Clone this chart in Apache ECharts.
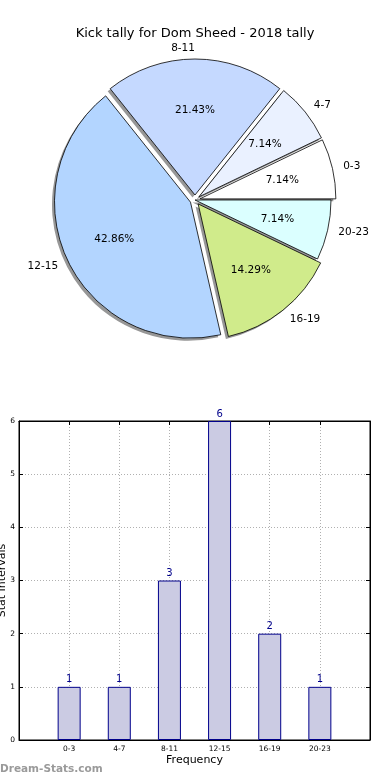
<!DOCTYPE html>
<html>
<head>
<meta charset="utf-8">
<script src="https://cdn.jsdelivr.net/npm/echarts@6/dist/echarts.min.js"></script>
<style>
html,body{margin:0;padding:0;background:#fff;}
#c{width:390px;height:780px;}
</style>
</head>
<body>
<div id="c"></div>
<script>
var titleText = 'Kick tally for Dom Sheed - 2018 tally';
var categories = ['0-3', '4-7', '8-11', '12-15', '16-19', '20-23'];
var counts = [1, 1, 3, 6, 2, 1];
var sliceColors = ['#ffffff', '#eaf1ff', '#c5d9ff', '#b3d5ff', '#d0eb8b', '#dbffff'];
var exploded = [true, true, true, true, true, false];
var yTicks = [0, 1, 2, 3, 4, 5, 6];
var xAxisName = 'Frequency';
var yAxisName = 'Stat Intervals';
var watermark = 'Dream-Stats.com';

var R = 136;
var CX = 195, CY = 200;
var START = 0.01;
var FONT = 'DejaVu Sans';

var pieData = categories.map(function (c, i) {
  return { name: c, value: counts[i], selected: exploded[i], itemStyle: { color: sliceColors[i] } };
});
var pieShadowData = categories.map(function (c, i) {
  return { name: c, value: counts[i], selected: exploded[i] };
});
var pieLabelData = categories.map(function (c, i) {
  return { name: c, value: counts[i], selected: exploded[i] };
});
var barData = counts.map(function (v, i) { return [i, v]; });

var gridLine = { show: true, lineStyle: { color: '#b0b0b0', type: [1, 2], width: 1 } };
var tickIn = { show: true, inside: true, length: 4, lineStyle: { color: '#000' } };

var chart = echarts.init(document.getElementById('c'), null, { renderer: 'canvas' });
chart.setOption({
  animation: false,
  backgroundColor: '#ffffff',
  title: {
    text: titleText, left: 'center', top: 22,
    textStyle: { fontFamily: FONT, fontSize: 13, fontWeight: 'normal', color: '#000' }
  },
  graphic: [{
    type: 'text', left: 0, top: 764,
    style: { text: watermark, fill: '#9a9a9a', font: 'bold 10.5px "DejaVu Sans"' }
  }],
  grid: {
    left: 19, right: 20, top: 421, bottom: 40,
    containLabel: false, outerBoundsMode: 'none',
    show: true, borderColor: '#000', borderWidth: 1
  },
  xAxis: [{
    type: 'value', min: -1, max: 6, interval: 1, position: 'bottom',
    name: xAxisName, nameLocation: 'middle', nameGap: 15,
    nameTextStyle: { fontFamily: FONT, fontSize: 11, color: '#000' },
    axisLine: { show: true, onZero: false, lineStyle: { color: '#000' } },
    axisTick: tickIn,
    axisLabel: {
      fontFamily: FONT, fontSize: 7.5, color: '#000', margin: 5,
      formatter: function (v) { return categories[v] !== undefined ? categories[v] : ''; }
    },
    splitLine: gridLine
  }, {
    type: 'value', min: -1, max: 6, interval: 1, position: 'top',
    axisLine: { show: true, onZero: false, lineStyle: { color: '#000' } },
    axisTick: tickIn, axisLabel: { show: false }, splitLine: { show: false }
  }],
  yAxis: [{
    type: 'value', min: yTicks[0], max: yTicks[yTicks.length - 1], interval: 1, position: 'left',
    name: yAxisName, nameLocation: 'middle', nameGap: 11, nameRotate: 90, nameMoveOverlap: false,
    nameTextStyle: { fontFamily: FONT, fontSize: 11, color: '#000' },
    axisLine: { show: true, onZero: false, lineStyle: { color: '#000' } },
    axisTick: tickIn,
    axisLabel: { fontFamily: FONT, fontSize: 7.5, color: '#000', margin: 4 },
    splitLine: gridLine
  }, {
    type: 'value', min: yTicks[0], max: yTicks[yTicks.length - 1], interval: 1, position: 'right',
    axisLine: { show: true, onZero: false, lineStyle: { color: '#000' } },
    axisTick: tickIn, axisLabel: { show: false }, splitLine: { show: false }
  }],
  series: [
    {
      type: 'pie', name: 'shadow',
      center: [CX - 2.5, CY + 2.5], radius: [0, R],
      startAngle: START, clockwise: false,
      selectedMode: 'multiple', selectedOffset: 5,
      avoidLabelOverlap: false, silent: true, z: 1,
      data: pieShadowData,
      itemStyle: { color: '#979797', borderWidth: 0 },
      label: { show: false }, labelLine: { show: false },
      emphasis: { disabled: true }
    },
    {
      type: 'pie', name: 'slices',
      center: [CX, CY], radius: [0, R],
      startAngle: START, clockwise: false,
      selectedMode: 'multiple', selectedOffset: 5,
      avoidLabelOverlap: false, silent: true, z: 2,
      data: pieData,
      itemStyle: { borderColor: '#000', borderWidth: 0.8 },
      label: {
        show: true, position: 'outside', formatter: '{b}',
        fontFamily: FONT, fontSize: 10.5, color: '#000', distanceToLabelLine: 0
      },
      labelLine: { show: false, length: 11, length2: 0 },
      emphasis: { disabled: true }
    },
    {
      type: 'pie', name: 'percent',
      center: [CX, CY], radius: [0, R * 1.2],
      startAngle: START, clockwise: false,
      selectedMode: 'multiple', selectedOffset: 5,
      avoidLabelOverlap: false, silent: true, z: 5,
      data: pieLabelData,
      itemStyle: { color: 'rgba(0,0,0,0)', borderWidth: 0 },
      label: {
        show: true, position: 'inside', formatter: '{d}%',
        fontFamily: FONT, fontSize: 10.5, color: '#000'
      },
      labelLine: { show: false },
      emphasis: { disabled: true }
    },
    {
      type: 'bar', name: 'counts', xAxisIndex: 0, yAxisIndex: 0,
      data: barData, barWidth: 23,
      itemStyle: { color: '#cbcbe3', borderColor: '#00008b', borderWidth: 1 },
      label: {
        show: true, position: 'top', distance: 2,
        formatter: function (p) { return p.value[1]; },
        fontFamily: FONT, fontSize: 10, color: '#00008b'
      },
      emphasis: { disabled: true }
    }
  ]
});
</script>
</body>
</html>
